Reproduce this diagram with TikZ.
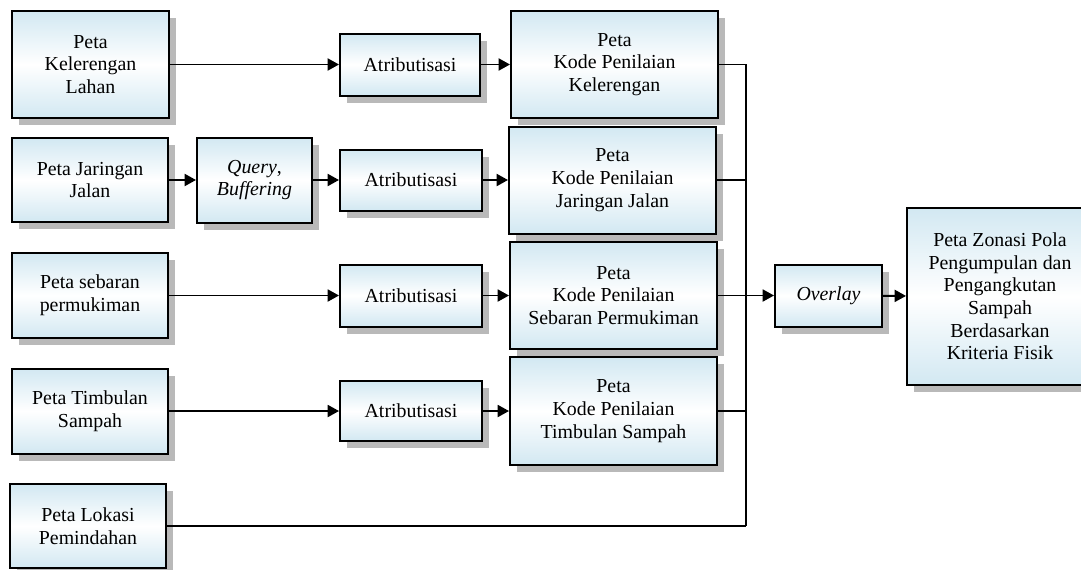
\documentclass[tikz,border=0pt]{standalone}
\usepackage{fontspec}
\setmainfont{Liberation Serif}
\usetikzlibrary{arrows.meta,shadows}

\definecolor{birumuda}{RGB}{210,232,242}

\tikzset{
  kotak/.style={draw, line width=1.5pt, inner sep=0pt, align=center,
    top color=birumuda, bottom color=birumuda, middle color=white,
    drop shadow={shadow xshift=5.5pt, shadow yshift=-5.5pt, fill=gray!55, opacity=1},
    font=\fontsize{14.9}{17}\selectfont},
  ukuran/.style 2 args={minimum width=#1*0.75pt, minimum height=#2*0.75pt},
  panah/.style={line width=1.4pt, -{Triangle[length=8.5pt,width=9pt]}},
  garis/.style={line width=1.4pt}
}

\begin{document}
\begin{tikzpicture}[x=0.75pt, y=-0.75pt]
    \useasboundingbox (0,0) rectangle (1081,569);
    \clip (0,0) rectangle (1081,569);

    \node[kotak, ukuran={157}{107}] (kel) at (90.5,64.5) {Peta\\Kelerengan\\Lahan};
    \node[kotak, ukuran={156}{84}]  (jar) at (90,180)    {Peta Jaringan\\Jalan};
    \node[kotak, ukuran={156}{85}]  (seb) at (90,295.5)  {Peta sebaran\\permukiman};
    \node[kotak, ukuran={156}{85}]  (tim) at (90,411)    {Peta Timbulan\\Sampah};
    \node[kotak, ukuran={156}{84}]  (lok) at (88,526)    {Peta Lokasi\\Pemindahan};

    \node[kotak, ukuran={115}{85}]  (qry) at (254.5,180) {\textit{Query},\\\textit{Buffering}};

    \node[kotak, ukuran={140}{62}]  (atr1) at (410,64.5)  {Atributisasi};
    \node[kotak, ukuran={142}{61}]  (atr2) at (411,180)   {Atributisasi};
    \node[kotak, ukuran={142}{62}]  (atr3) at (411,295.5) {Atributisasi};
    \node[kotak, ukuran={142}{60}]  (atr4) at (411,411)   {Atributisasi};

    \node[kotak, ukuran={207}{107}] (kp1) at (614.5,64.5) {Peta\\Kode Penilaian\\Kelerengan};
    \node[kotak, ukuran={207}{107}] (kp2) at (612.5,180)  {Peta\\Kode Penilaian\\Jaringan Jalan};
    \node[kotak, ukuran={207}{107}] (kp3) at (613.5,295.5) {Peta\\Kode Penilaian\\Sebaran Permukiman};
    \node[kotak, ukuran={207}{108}] (kp4) at (613.5,411)  {Peta\\Kode Penilaian\\Timbulan Sampah};

    \node[kotak, ukuran={107}{62}]  (ovl) at (828.5,295.5) {\textit{Overlay}};
    \node[kotak, ukuran={186}{177}] (zon) at (1000,296.5) {Peta Zonasi Pola\\Pengumpulan dan\\Pengangkutan\\Sampah\\Berdasarkan\\Kriteria Fisik};

    \coordinate (ujung) at (746,526);

    \draw[panah] (kel) -- (atr1);
    \draw[panah] (jar) -- (qry);
    \draw[panah] (qry) -- (atr2);
    \draw[panah] (seb) -- (atr3);
    \draw[panah] (tim) -- (atr4);
    \draw[panah] (atr1) -- (kp1);
    \draw[panah] (atr2) -- (kp2);
    \draw[panah] (atr3) -- (kp3);
    \draw[panah] (atr4) -- (kp4);

    \draw[garis] (kp1.east) -| (ujung);
    \draw[garis] (lok.east) -- (ujung);
    \draw[garis] (kp2.east) -- (kp2.east -| ujung);
    \draw[garis] (kp4.east) -- (kp4.east -| ujung);
    \draw[panah] (kp3.east) -- (ovl.west);
    \draw[panah] (ovl) -- (zon);
\end{tikzpicture}
\end{document}
